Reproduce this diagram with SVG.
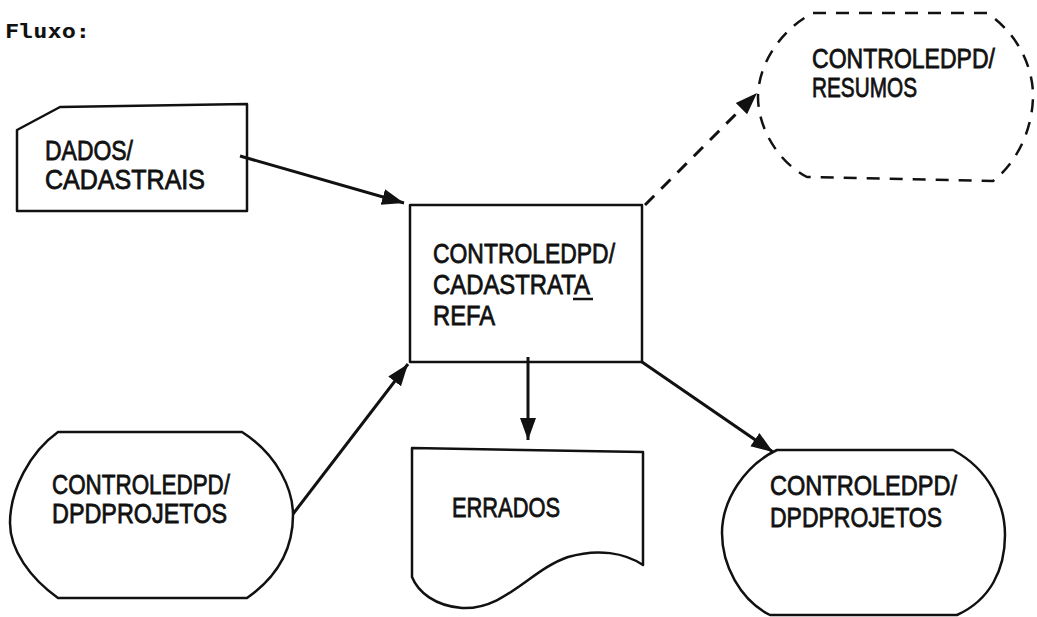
<svg xmlns="http://www.w3.org/2000/svg" width="1037" height="617" viewBox="0 0 1037 617">
<style>
.shape{fill:none;stroke:#111;stroke-width:2.5;stroke-linejoin:round}
.dash{stroke-dasharray:13 10}
.t{font-family:"Liberation Sans","DejaVu Sans",sans-serif;font-size:28px;fill:#111;stroke:#111;stroke-width:0.8}
.conn{fill:none;stroke:#111;stroke-width:3}
</style>
<defs>
<marker id="ah" markerUnits="userSpaceOnUse" markerWidth="24" markerHeight="18" refX="22" refY="8" orient="auto" viewBox="0 0 24 16">
<path d="M0,0 L22,8 L0,16 Z" fill="#111"/>
</marker>
</defs>
<rect width="1037" height="617" fill="#fff"/>
<text x="5" y="38" font-family="DejaVu Sans Mono, Liberation Mono, monospace" font-weight="bold" font-size="19" fill="#111" textLength="85" lengthAdjust="spacingAndGlyphs">Fluxo:</text>

<g id="dados">
<path class="shape" d="M17,130 L60,107 L247,104 L247,211 L17,211 Z"/>
<text class="t" x="45" y="160" textLength="88" lengthAdjust="spacingAndGlyphs">DADOS/</text>
<text class="t" x="45" y="189" textLength="160" lengthAdjust="spacingAndGlyphs">CADASTRAIS</text>
</g>

<g id="cadastratarefa">
<rect class="shape" x="410" y="205" width="232" height="157"/>
<text class="t" x="433" y="263" textLength="182" lengthAdjust="spacingAndGlyphs">CONTROLEDPD/</text>
<text class="t" x="433" y="294" textLength="157" lengthAdjust="spacingAndGlyphs">CADASTRATA</text>
<line x1="573" y1="299" x2="593" y2="299" stroke="#111" stroke-width="2.5"/>
<text class="t" x="433" y="325" textLength="62" lengthAdjust="spacingAndGlyphs">REFA</text>
</g>

<g id="resumos">
<path class="shape dash" d="M813,13 L987,13 C1020,35 1033,70 1033,95 C1033,125 1020,160 993,181 L807,177 C775,160 758,125 758,97 C758,65 780,30 813,13 Z"/>
<text class="t" x="812" y="68" textLength="183" lengthAdjust="spacingAndGlyphs">CONTROLEDPD/</text>
<text class="t" x="812" y="97" textLength="105" lengthAdjust="spacingAndGlyphs">RESUMOS</text>
</g>

<g id="projetos-in">
<path class="shape" d="M58,432 L242,432 C278,455 293,490 293,515 C293,545 280,575 247,598 L58,598 C30,578 10,550 10,523 C10,490 30,452 58,432 Z"/>
<text class="t" x="52" y="494" textLength="178" lengthAdjust="spacingAndGlyphs">CONTROLEDPD/</text>
<text class="t" x="52" y="523" textLength="175" lengthAdjust="spacingAndGlyphs">DPDPROJETOS</text>
</g>

<g id="errados">
<path class="shape" d="M412,448 L643,452 L643,565 C625,553 598,548 568,557 C530,570 505,610 462,608 C435,606 418,592 412,577 Z"/>
<text class="t" x="452" y="517" textLength="108" lengthAdjust="spacingAndGlyphs">ERRADOS</text>
</g>

<g id="projetos-out">
<path class="shape" d="M777,450 L953,450 C990,470 1005,505 1005,535 C1005,570 990,600 957,615 L770,615 C740,600 722,565 722,533 C722,500 745,465 777,450 Z"/>
<text class="t" x="770" y="495" textLength="187" lengthAdjust="spacingAndGlyphs">CONTROLEDPD/</text>
<text class="t" x="770" y="527" textLength="172" lengthAdjust="spacingAndGlyphs">DPDPROJETOS</text>
</g>

<g id="connectors">
<line class="conn" x1="240" y1="156" x2="404" y2="203" marker-end="url(#ah)"/>
<line class="conn" x1="293" y1="514" x2="408" y2="364" marker-end="url(#ah)"/>
<line class="conn" x1="528" y1="357" x2="528" y2="440" marker-end="url(#ah)"/>
<line class="conn" x1="642" y1="362" x2="773" y2="452" marker-end="url(#ah)"/>
<line class="conn dash" x1="645" y1="205" x2="757" y2="93" marker-end="url(#ah)"/>
</g>
</svg>
